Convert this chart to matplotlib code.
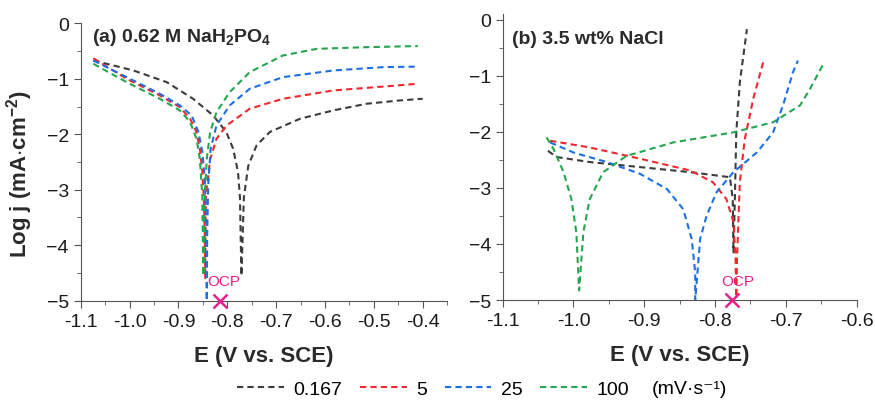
import numpy as np
import matplotlib
matplotlib.use("Agg")
import matplotlib.pyplot as plt
from matplotlib.ticker import MultipleLocator, FuncFormatter

plt.rcParams['font.family'] = ['Liberation Sans', 'DejaVu Sans']
plt.rcParams['mathtext.fontset'] = 'custom'
plt.rcParams['mathtext.rm'] = 'Liberation Sans'
plt.rcParams['mathtext.bf'] = 'Liberation Sans:bold'

# -------------------------
# Data
# -------------------------
rates = ['0.167', '5', '25', '100']
colors = ['#3c3c3c', '#f0282d', '#1c6fe3', '#25a550']

# (a) 0.62 M NaH2PO4
a_E = {
    '0.167': [-1.074, -0.992, -0.924, -0.870, -0.829, -0.802, -0.788, -0.778, -0.774, -0.771,
              -0.766, -0.757, -0.740, -0.713, -0.651, -0.583, -0.515, -0.447, -0.400],
    '5': [-1.074, -1.006, -0.938, -0.897, -0.876, -0.863, -0.856, -0.851, -0.848, -0.846, -0.845,
          -0.844, -0.835, -0.822, -0.801, -0.754, -0.686, -0.583, -0.481, -0.410],
    '25': [-1.074, -1.006, -0.938, -0.897, -0.873, -0.859, -0.851, -0.846, -0.842, -0.842,
           -0.841, -0.839, -0.834, -0.822, -0.795, -0.754, -0.686, -0.583, -0.481, -0.410],
    '100': [-1.074, -1.006, -0.938, -0.897, -0.876, -0.863, -0.856, -0.851, -0.849,
            -0.846, -0.842, -0.835, -0.822, -0.795, -0.754, -0.686, -0.617, -0.515, -0.410],
}
a_logj = {
    '0.167': [-0.67, -0.85, -1.06, -1.36, -1.66, -1.96, -2.26, -2.68, -3.14, -4.55,
              -3.14, -2.57, -2.20, -1.96, -1.72, -1.57, -1.45, -1.39, -1.36],
    '5': [-0.63, -1.00, -1.30, -1.51, -1.72, -1.96, -2.26, -2.68, -3.14, -3.77, -4.61,
          -3.14, -2.45, -2.08, -1.84, -1.54, -1.36, -1.21, -1.14, -1.09],
    '25': [-0.67, -0.97, -1.27, -1.48, -1.66, -1.96, -2.32, -2.80, -3.77, -5.00,
           -3.77, -2.93, -2.26, -1.84, -1.48, -1.18, -0.97, -0.85, -0.79, -0.78],
    '100': [-0.73, -1.06, -1.36, -1.57, -1.78, -2.08, -2.45, -3.14, -4.55,
            -3.14, -2.45, -1.96, -1.60, -1.24, -0.88, -0.58, -0.46, -0.43, -0.41],
}

# (b) 3.5 wt% NaCl
b_E = {
    '0.167': [-1.036, -1.024, -0.977, -0.906, -0.835, -0.779, -0.775, -0.774, -0.772, -0.770,
              -0.765, -0.755],
    '5': [-1.033, -0.977, -0.906, -0.835, -0.803, -0.784, -0.774, -0.771, -0.770, -0.769,
          -0.765, -0.758, -0.746, -0.732],
    '25': [-1.033, -1.000, -0.953, -0.906, -0.868, -0.845, -0.833, -0.828, -0.828,
           -0.821, -0.812, -0.798, -0.774, -0.741, -0.718, -0.704, -0.690, -0.683],
    '100': [-1.038, -1.028, -1.014, -1.003, -0.996, -0.992, -0.986, -0.977, -0.958, -0.925,
            -0.859, -0.774, -0.718, -0.680, -0.666, -0.647],
}
b_logj = {
    '0.167': [-2.34, -2.45, -2.54, -2.63, -2.72, -2.81, -3.20, -4.15, -3.20, -2.01,
              -1.12, -0.17],
    '5': [-2.16, -2.28, -2.48, -2.69, -2.90, -3.20, -3.61, -4.27, -4.95, -4.27,
          -2.90, -2.13, -1.41, -0.76],
    '25': [-2.19, -2.37, -2.54, -2.75, -3.02, -3.38, -3.91, -4.51, -5.00,
           -3.91, -3.50, -3.08, -2.72, -2.37, -2.01, -1.53, -0.94, -0.73],
    '100': [-2.10, -2.31, -2.72, -3.20, -3.79, -4.83, -3.79, -3.20, -2.72, -2.43,
            -2.19, -2.01, -1.83, -1.53, -1.24, -0.79],
}

ocp_a = (-0.815, -5.0)
ocp_b = (-0.776, -5.0)
ocp_color = '#e8208c'

# -------------------------
# Figure
# -------------------------
fig = plt.figure(figsize=(8.75, 4.02), dpi=100)
ax1 = fig.add_axes([0.0922, 0.2495, 0.4188, 0.690])
ax2 = fig.add_axes([0.5745, 0.2512, 0.4045, 0.7115])

lines = []
for r, c in zip(rates, colors):
    ln, = ax1.plot(a_E[r], a_logj[r], color=c, lw=1.5, dashes=(3, 2), label=r)
    ax2.plot(b_E[r], b_logj[r], color=c, lw=1.5, dashes=(3, 2))
    lines.append(ln)

ax1.set_xlim(-1.1, -0.35)
ax1.set_ylim(-5, 0)
ax2.set_xlim(-1.1, -0.6)
ax2.set_ylim(-5, 0.1)

for ax in (ax1, ax2):
    ax.xaxis.set_major_locator(MultipleLocator(0.1))
    ax.xaxis.set_minor_locator(MultipleLocator(0.05))
    ax.set_yticks([0, -1, -2, -3, -4, -5])
    ax.yaxis.set_minor_locator(MultipleLocator(0.5))
    for s in ['top', 'right']:
        ax.spines[s].set_visible(False)
    for s in ['left', 'bottom']:
        ax.spines[s].set_color('#555555')
    ax.tick_params(which='both', direction='out', color='#555555', labelsize=14,
                   labelcolor='#1a1a1a')
    ax.tick_params(which='major', length=5)
    ax.tick_params(which='minor', length=3)
    ax.xaxis.set_major_formatter(FuncFormatter(lambda v, p: f'{v:.1f}'))
    ax.set_xlabel('E (V vs. SCE)', fontsize=16, fontweight='bold', color='#2a2a2a',
                  labelpad=11)

# OCP markers
for ax, (ex, ey) in ((ax1, ocp_a), (ax2, ocp_b)):
    ax.plot(ex, ey, marker='x', ms=10, mew=1.8, color=ocp_color, clip_on=False, zorder=5)
    ax.text(ex + 0.008, ey + 0.22, 'OCP', color=ocp_color, fontsize=11, ha='center',
            va='bottom')

ax1.text(0.031, 0.951, r'(a) 0.62 M NaH$_\mathbf{2}$PO$_\mathbf{4}$', transform=ax1.transAxes,
         fontsize=14, fontweight='bold', color='#2a2a2a', va='center')
ax2.text(0.025, 0.914, '(b) 3.5 wt% NaCl', transform=ax2.transAxes,
         fontsize=14, fontweight='bold', color='#2a2a2a', va='center')

ax1.set_ylabel(r'Log j (mA$\cdot$cm$^{\mathbf{-2}}$)', fontsize=16, fontweight='bold',
               color='#2a2a2a')
ax1.yaxis.set_label_coords(-0.125, 0.46)

fig.legend(handles=lines, labels=rates, loc='center left', bbox_to_anchor=(0.271, 0.03),
           ncol=4, frameon=False, fontsize=14, handlelength=2.4, columnspacing=0.9,
           handletextpad=0.5, borderpad=0, borderaxespad=0)
fig.text(0.745, 0.03, '(mV·s\u207b\u00b9)', fontsize=14, ha='left', va='center')

fig.savefig('out.png', dpi=100)
